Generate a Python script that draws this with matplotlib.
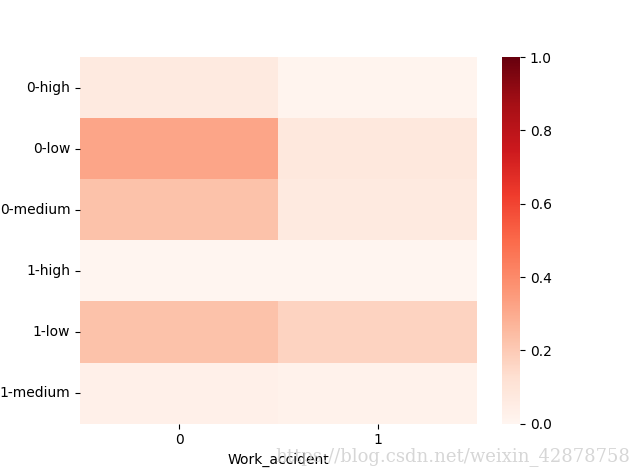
import matplotlib
matplotlib.use("Agg")
import matplotlib.pyplot as plt
import seaborn as sns
import pandas as pd

rows = ["0-high", "0-low", "0-medium", "1-high", "1-low", "1-medium"]
cols = [0, 1]
acc0 = [0.07, 0.32, 0.23, 0.00, 0.23, 0.03]
acc1 = [0.01, 0.08, 0.07, 0.00, 0.17, 0.02]

df = pd.DataFrame({0: acc0, 1: acc1}, index=rows)
df.columns.name = "Work_accident"

fig = plt.figure(figsize=(6.4, 4.76), dpi=100)
ax = fig.add_subplot(111)
sns.heatmap(df, cmap="Reds", vmin=0, vmax=1, ax=ax)
ax.set_ylabel("")
ax.set_xlabel("Work_accident")
plt.setp(ax.get_yticklabels(), rotation=0)
fig.text(0.985, 0.02, "https://blog.csdn.net/weixin_42878758", ha="right", va="bottom",
         fontsize=13, family="DejaVu Serif", color="#cccccc", alpha=0.8)
fig.savefig("out.png", dpi=100)
